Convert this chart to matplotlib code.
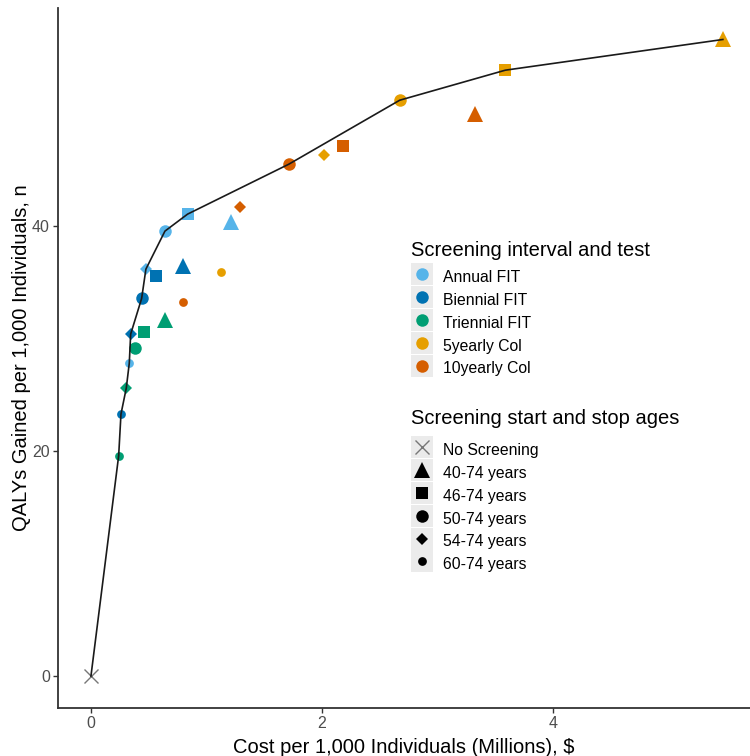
import numpy as np
import matplotlib.pyplot as plt
from matplotlib.lines import Line2D

plt.rcParams['font.family'] = ['Liberation Sans', 'DejaVu Sans']

# screening interval / test
tests = ['Annual FIT', 'Biennial FIT', 'Triennial FIT', '5yearly Col', '10yearly Col']
test_colors = ['#56B4E9', '#0072B2', '#009E73', '#E69F00', '#D55E00']

# start and stop ages
ages = ['40-74 years', '46-74 years', '50-74 years', '54-74 years', '60-74 years']
age_markers = ['^', 's', 'o', 'D', 'o']
age_sizes = [11.5, 9, 9, 6, 6.3]

# cost (millions $) and QALYs per 1,000, ordered as ages
cost_annual = [1.21, 0.837, 0.641, 0.476, 0.332]
qaly_annual = [40.35, 41.07, 39.56, 36.18, 27.82]
cost_biennial = [0.794, 0.56, 0.439, 0.344, 0.26]
qaly_biennial = [36.44, 35.58, 33.57, 30.4, 23.29]
cost_triennial = [0.641, 0.462, 0.378, 0.306, 0.24]
qaly_triennial = [31.64, 30.6, 29.13, 25.6, 19.58]
cost_col5 = [5.475, 3.59, 2.675, 2.017, 1.123]
qaly_col5 = [56.6, 53.87, 51.2, 46.34, 35.88]
cost_col10 = [3.325, 2.184, 1.714, 1.293, 0.797]
qaly_col10 = [49.93, 47.17, 45.51, 41.72, 33.27]

no_screen_cost = 0.0
no_screen_qaly = 0.0

# efficient frontier strategies
frontier_tests = ['Triennial FIT', 'Biennial FIT', 'Triennial FIT', 'Annual FIT', 'Biennial FIT',
                  'Biennial FIT', 'Annual FIT', 'Annual FIT', 'Annual FIT', '10yearly Col',
                  '5yearly Col', '5yearly Col', '5yearly Col']
frontier_ages = ['60-74 years', '60-74 years', '54-74 years', '60-74 years', '54-74 years',
                 '50-74 years', '54-74 years', '50-74 years', '46-74 years', '50-74 years',
                 '50-74 years', '46-74 years', '40-74 years']

costs = [cost_annual, cost_biennial, cost_triennial, cost_col5, cost_col10]
qalys = [qaly_annual, qaly_biennial, qaly_triennial, qaly_col5, qaly_col10]

fig = plt.figure(figsize=(7.5, 7.56), dpi=100)
ax = fig.add_axes([58.3 / 750, 1 - 707.7 / 756, (750 - 58.3) / 750, (707.7 - 8) / 756])

for ti, t in enumerate(tests):
    for ai, a in enumerate(ages):
        ax.plot(costs[ti][ai], qalys[ti][ai], linestyle='', marker=age_markers[ai],
                markersize=age_sizes[ai], color=test_colors[ti], markeredgewidth=0, zorder=3)

ax.plot(no_screen_cost, no_screen_qaly, linestyle='', marker='x', markersize=10,
        color='#777777', markeredgewidth=1.0, zorder=3)

fx = [no_screen_cost] + [costs[tests.index(t)][ages.index(a)] for t, a in zip(frontier_tests, frontier_ages)]
fy = [no_screen_qaly] + [qalys[tests.index(t)][ages.index(a)] for t, a in zip(frontier_tests, frontier_ages)]
ax.plot(fx, fy, color='#1a1a1a', linewidth=1.2, zorder=4)

ax.set_xlim(-0.283, 5.71)
ax.set_ylim(-2.82, 59.4)
ax.set_xticks([0, 2, 4])
ax.set_yticks([0, 20, 40])
for s in ['top', 'right']:
    ax.spines[s].set_visible(False)
for s in ['left', 'bottom']:
    ax.spines[s].set_linewidth(1.3)
    ax.spines[s].set_color('#333333')
ax.tick_params(length=3.6, width=1.0, color='#333333', labelcolor='#4d4d4d', labelsize=11.5, pad=2.5)

ax.set_xlabel('Cost per 1,000 Individuals (Millions), $', fontsize=14.5, color='black')
ax.set_ylabel('QALYs Gained per 1,000 Individuals, n', fontsize=14.5, color='black')
ax.xaxis.set_label_coords(0.5, -0.043)
ax.yaxis.set_label_coords(-0.04, 0.5)

# legend keys: grey square background with the marker on top
key_bg = '#ebebeb'
def key(marker, size, color, mew=0):
    bg = Line2D([], [], linestyle='', marker='s', markersize=15.3, color=key_bg, markeredgewidth=0)
    fg = Line2D([], [], linestyle='', marker=marker, markersize=size, color=color, markeredgewidth=mew)
    return (bg, fg)

h1 = [key('o', 9, c) for c in test_colors]
h2 = [key('x', 10, '#777777', 1.0)] + [key(m, s, 'black') for m, s in zip(age_markers, age_sizes)]

leg_kw = dict(loc='upper left', bbox_transform=fig.transFigure, frameon=False, borderpad=0,
              borderaxespad=0, fontsize=11.3, handlelength=1.37, handleheight=1.73,
              handletextpad=0.64, labelspacing=0.09)

fig.text(411 / 750, 1 - 250 / 756, 'Screening interval and test', fontsize=14.5, va='center', ha='left')
fig.legend(h1, tests, bbox_to_anchor=(411 / 750, 1 - 266 / 756), **leg_kw)

fig.text(411 / 750, 1 - 418 / 756, 'Screening start and stop ages', fontsize=14.5, va='center', ha='left')
fig.legend(h2, ['No Screening'] + ages, bbox_to_anchor=(411 / 750, 1 - 439 / 756), **leg_kw)

fig.savefig('out.png', dpi=100)
